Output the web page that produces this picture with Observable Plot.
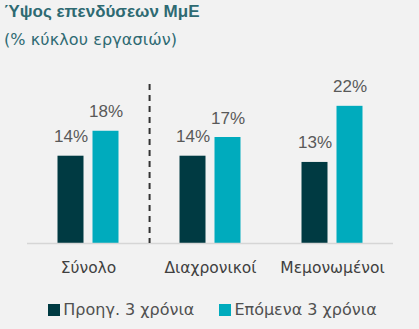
<!DOCTYPE html>
<html><head><meta charset="utf-8">
<script src="https://cdn.jsdelivr.net/npm/d3@7"></script>
<script src="https://cdn.jsdelivr.net/npm/@observablehq/plot@0.6"></script>
<style>
body{margin:0;background:#f2f2f2;width:419px;height:329px;overflow:hidden;font-family:"Liberation Sans",Arial,sans-serif}
#title{font-weight:bold;font-size:17px;line-height:20px;color:#2e6a72;padding:2px 0 0 4px}
#subtitle{font-family:"DejaVu Sans",sans-serif;font-size:16px;letter-spacing:0.1px;line-height:20px;color:#2e6a72;margin-top:8px;padding-left:4px}
#chart{margin-top:5px;height:233px}
#legend{font-family:"DejaVu Sans",sans-serif;display:flex;justify-content:center;align-items:center;margin-top:12px;font-size:16px;line-height:20px;color:#505050;padding-left:6px}
#legend .item{display:inline-flex;align-items:center;margin-right:25px}
#legend .item:last-child{margin-right:0}
#legend .sw{width:12px;height:12px;margin-right:3px;display:inline-block}
</style></head><body>
<div id="title">Ύψος επενδύσεων ΜμΕ</div>
<div id="subtitle">(% κύκλου εργασιών)</div>
<div id="chart"></div>
<div id="legend"></div>
<script>
const categories = ["Σύνολο", "Διαχρονικοί", "Μεμονωμένοι"];
const series = ["Προηγ. 3 χρόνια", "Επόμενα 3 χρόνια"];
const prevValues = [14, 14, 13];
const nextValues = [18, 17, 22];
const colors = ["#003a42", "#00abbd"];

const rows = [];
categories.forEach((c, i) => {
  rows.push({category: c, series: series[0], value: prevValues[i]});
  rows.push({category: c, series: series[1], value: nextValues[i]});
});

const W = 419, H = 233, mL = 26.5, mR = 26;
const facetW = (W - mL - mR) / categories.length;

const plot = Plot.plot({
  width: W, height: H,
  marginLeft: mL, marginRight: mR, marginTop: 29, marginBottom: 45,
  style: {background: "transparent", fontFamily: '"Liberation Sans", Arial, sans-serif', color: "#404040", overflow: "visible"},
  fx: {domain: categories, padding: 0, label: null, axis: null},
  x: {domain: series, paddingInner: 0.257, paddingOuter: 0.871, axis: null},
  y: {domain: [0, 25.5], axis: null},
  color: {domain: series, range: colors},
  marks: [
    Plot.barY(rows, {fx: "category", x: "series", y: "value", fill: "series"}),
    Plot.ruleY([0], {stroke: "#d6d6d6", strokeWidth: 1.5}),
    Plot.text(rows, {fx: "category", x: "series", y: "value", text: d => d.value + "%", lineAnchor: "bottom", dy: -14, fontSize: 17, fill: "#595959"}),
    Plot.ruleX([categories[0]], {fx: d => d, x: null, dx: facetW / 2, stroke: "#333", strokeWidth: 2, strokeDasharray: "6,5"}),
    Plot.axisFx({anchor: "bottom", tickSize: 0, tickPadding: 18, fontSize: 15.5, fontFamily: '"DejaVu Sans", sans-serif', label: null, fill: "#404040"})
  ]
});
document.getElementById("chart").appendChild(plot);

const lg = d3.select("#legend");
series.forEach((s, i) => {
  const it = lg.append("span").attr("class", "item");
  it.append("span").attr("class", "sw").style("background", colors[i]);
  it.append("span").text(s);
});
</script>
</body></html>
